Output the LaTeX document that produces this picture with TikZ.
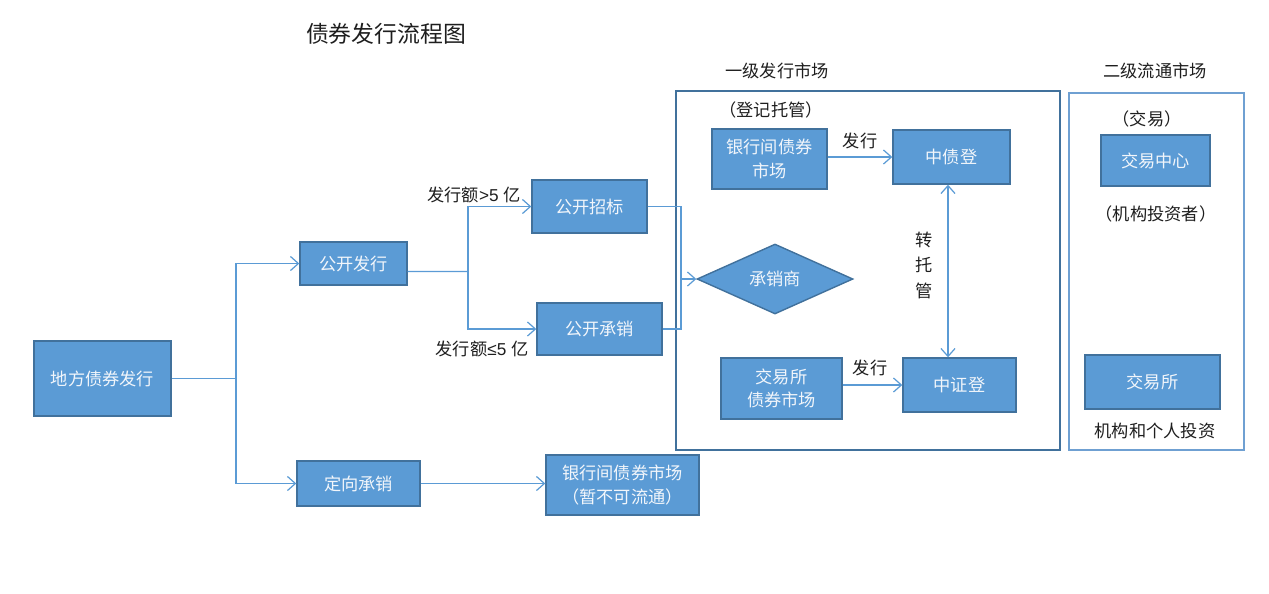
\documentclass[tikz,border=0pt]{standalone}
\usepackage{fontspec}
\setmainfont{Noto Sans CJK SC}
\newfontfamily\latf{Liberation Sans}
\usetikzlibrary{arrows.meta,shapes.geometric,calc}
\definecolor{boxfill}{HTML}{5B9BD5}
\definecolor{boxline}{HTML}{41719C}
\definecolor{connc}{HTML}{5B9BD5}
\definecolor{frame2}{HTML}{6FA0D2}
\definecolor{boxtext}{HTML}{F2F6FB}
\definecolor{lbl}{HTML}{1E1E1E}
\tikzset{
  x=0.02cm, y=-0.02cm,
  bx/.style={draw=boxline, fill=boxfill, line width=0.8pt, text=boxtext, inner sep=0pt, align=center,
    font=\fontsize{9.8}{13.5}\selectfont},
  dm/.style={bx, diamond},
  frm/.style={draw=boxline, line width=0.9pt, inner sep=0pt},
  lb/.style={text=lbl, inner sep=0pt, font=\fontsize{9.8}{12}\selectfont},
  conn/.style={draw=connc, line width=0.7pt},
  arr/.style={conn, -{Straight Barb[length=4.5pt,width=8pt]}},
  darr/.style={conn, {Straight Barb[length=4.5pt,width=8pt]}-{Straight Barb[length=4.5pt,width=8pt]}},
}
\begin{document}
\begin{tikzpicture}
\useasboundingbox (0,0) rectangle (1269,593);
% frames
\node[frm, minimum width=7.68cm, minimum height=7.18cm] (f1) at (868,270.5) {};
\node[frm, draw=frame2, minimum width=3.5cm, minimum height=7.14cm] (f2) at (1156.5,271.5) {};
% titles
\node[lb, font=\fontsize{13}{15}\selectfont] (title) at (386,34) {债券发行流程图};
\node[lb] (t1) at (777,71) {一级发行市场};
\node[lb] (t2) at (1155,71) {二级流通市场};
% boxes
\node[bx, minimum width=2.74cm, minimum height=1.50cm] (dfz) at (102.5,378.5) {地方债券发行};
\node[bx, minimum width=2.14cm, minimum height=0.86cm] (gkfx) at (353.5,263.5) {公开发行};
\node[bx, minimum width=2.46cm, minimum height=0.90cm] (dxcx) at (358.5,483.5) {定向承销};
\node[bx, minimum width=2.30cm, minimum height=1.06cm] (gkzb) at (589.5,206.5) {公开招标};
\node[bx, minimum width=2.50cm, minimum height=1.04cm] (gkcx) at (599.5,329) {公开承销};
\node[bx, minimum width=3.06cm, minimum height=1.20cm] (yhj2) at (622.5,485) {银行间债券市场\\（暂不可流通）};
\node[dm, minimum width=3.12cm, minimum height=1.40cm] (cxs) at (775,279) {承销商};
\node[bx, minimum width=2.30cm, minimum height=1.20cm] (yhj) at (769.5,159) {银行间债券\\市场};
\node[bx, minimum width=2.34cm, minimum height=1.08cm] (zzd) at (951.5,157) {中债登};
\node[bx, minimum width=2.42cm, minimum height=1.22cm] (jys) at (781.5,388.5) {交易所\\债券市场};
\node[bx, minimum width=2.26cm, minimum height=1.08cm] (zzd2) at (959.5,385) {中证登};
\node[bx, minimum width=2.18cm, minimum height=1.02cm] (jyzx) at (1155.5,160.5) {交易中心};
\node[bx, minimum width=2.70cm, minimum height=1.08cm] (jys2) at (1152.5,382) {交易所};
% labels
\node[lb] (djtg) at (771,110) {（登记托管）};
\node[lb] (fx1) at (860,141) {发行};
\node[lb] (fx2) at (870,368) {发行};
\node[lb, align=center, font=\fontsize{9.8}{14.5}\selectfont] (ztg) at (924,265) {转\\托\\管};
\node[lb] (jy) at (1147,119) {（交易）};
\node[lb] (jgtz) at (1156,214) {（机构投资者）};
\node[lb] (jggr) at (1155,431) {机构和个人投资};
\node[lb] (gt5) at (474,195) {发行额{\latf >5 }亿};
\node[lb] (le5) at (482,349) {发行额{\latf ≤5 }亿};
% connectors
\coordinate (j1) at (236,378.5);
\draw[conn] (dfz.east) -- (j1);
\draw[arr] (j1) |- (gkfx.west);
\draw[arr] (j1) |- (dxcx.west);
\coordinate (j2) at (468,271.5);
\draw[conn] ([yshift=-0.16cm]gkfx.east) -- (j2);
\draw[arr] (j2) |- (gkzb.west);
\draw[arr] (j2) |- (gkcx.west);
\coordinate (j3) at (681,279);
\draw[conn] (gkzb.east) -| (j3);
\draw[conn] (gkcx.east) -| (j3);
\draw[arr] (j3) -- (cxs.west);
\draw[arr] (dxcx.east) -- (yhj2.west |- dxcx.east);
\draw[arr] (yhj.east |- zzd.west) -- (zzd.west);
\draw[arr] (jys.east |- zzd2.west) -- (zzd2.west);
\draw[darr] ([xshift=-0.07cm]zzd.south) -- ([xshift=-0.07cm]zzd.south |- zzd2.north);
\end{tikzpicture}
\end{document}
